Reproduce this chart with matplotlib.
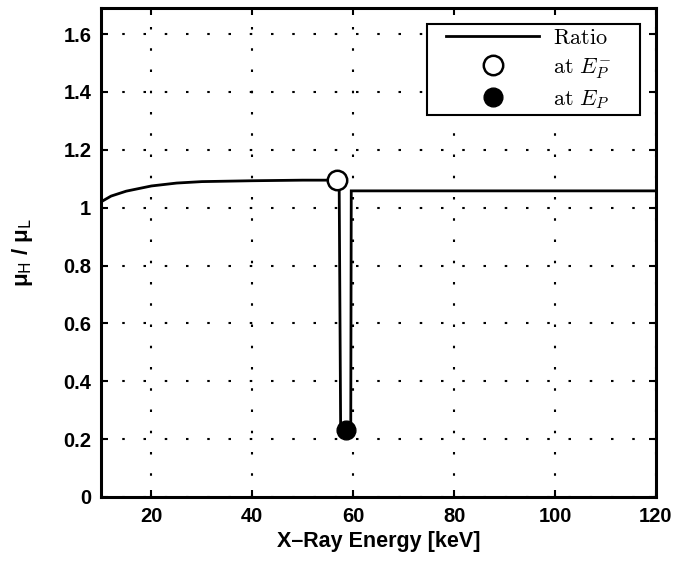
import matplotlib
matplotlib.use("Agg")
import matplotlib.pyplot as plt
from matplotlib.font_manager import FontProperties
from matplotlib.lines import Line2D
from matplotlib.patches import Rectangle

# Ratio of attenuation coefficients vs. photon energy
energy = [10, 12, 15, 20, 25, 30, 40, 50, 57.2, 57.5, 59.5, 59.6, 80, 100, 120]
ratio = [1.02, 1.04, 1.057, 1.075, 1.085, 1.09, 1.093, 1.095, 1.095, 0.23, 0.23,
         1.058, 1.058, 1.058, 1.058]

# Ratio just below the edge and at the edge
ep_minus = (56.8, 1.095)
ep_at = (58.6, 0.23)

x_ticks = [20, 40, 60, 80, 100, 120]
y_ticks = [0, 0.2, 0.4, 0.6, 0.8, 1.0, 1.2, 1.4, 1.6]
y_tick_labels = ["0", "0.2", "0.4", "0.6", "0.8", "1", "1.2", "1.4", "1.6"]

plt.rcParams["font.family"] = ["Liberation Sans", "DejaVu Sans"]

W, H = 677, 567
fig = plt.figure(figsize=(W / 100, H / 100), dpi=100)
ax_l, ax_r, ax_t, ax_b = 101, 656, 8, 497
ax = fig.add_axes([ax_l / W, 1 - ax_b / H, (ax_r - ax_l) / W, (ax_b - ax_t) / H])

ax.plot(energy, ratio, color="black", lw=2.0, solid_joinstyle="miter", zorder=3)
ax.plot(*ep_minus, marker="o", ms=14, mfc="white", mec="black", mew=1.8,
        ls="none", zorder=4)
ax.plot(*ep_at, marker="o", ms=13.5, mfc="black", mec="black", ls="none", zorder=4)

ax.set_xlim(10, 120)
ax.set_ylim(0, 1.69)
ax.set_xticks(x_ticks)
ax.set_yticks(y_ticks)
ax.set_yticklabels(y_tick_labels)

ax.grid(True, color="black", linestyle=(0, (1.2, 9)), linewidth=1.5)
ax.tick_params(direction="in", length=5, width=1.5, top=True, right=True,
               labelsize=14.5, pad=7, colors="black")
for lbl in ax.get_xticklabels() + ax.get_yticklabels():
    lbl.set_fontweight("bold")
for sp in ax.spines.values():
    sp.set_linewidth(2.2)

ax.set_xlabel("X\u2013Ray Energy [keV]", fontsize=15.5, fontweight="bold", labelpad=4)
ylab_fp = FontProperties(family="Liberation Sans", size=16, weight="bold",
                         math_fontfamily="dejavusans")
ax.set_ylabel("\u03bc$_\\mathsf{H}$ / \u03bc$_\\mathsf{L}$", fontproperties=ylab_fp,
              labelpad=20)

# Legend box (pixel extents converted to axes fraction)
def ax_x(px):
    return (px - ax_l) / (ax_r - ax_l)

def ax_y(py):
    return (ax_b - py) / (ax_b - ax_t)

box = Rectangle((ax_x(427), ax_y(115)), ax_x(640) - ax_x(427), ax_y(24) - ax_y(115),
                transform=ax.transAxes, facecolor="white", edgecolor="black",
                lw=1.5, zorder=5)
ax.add_patch(box)

handles = [
    Line2D([], [], color="black", lw=2.0),
    Line2D([], [], marker="o", ms=14, mfc="white", mec="black", mew=1.8, ls="none"),
    Line2D([], [], marker="o", ms=13.5, mfc="black", mec="black", ls="none"),
]
labels = [r"$\mathrm{Ratio}$", r"$\mathrm{at}\ E_P^{-}$", r"$\mathrm{at}\ E_P$"]
leg_fp = FontProperties(family="DejaVu Serif", size=16, math_fontfamily="cm")
leg = ax.legend(handles, labels, loc="upper left", prop=leg_fp, frameon=False,
                handlelength=4.2, handletextpad=0.6, borderpad=0, labelspacing=0.32,
                borderaxespad=0, bbox_to_anchor=(ax_x(446), ax_y(27)))
leg.set_zorder(6)

fig.savefig("out.png", dpi=100)
